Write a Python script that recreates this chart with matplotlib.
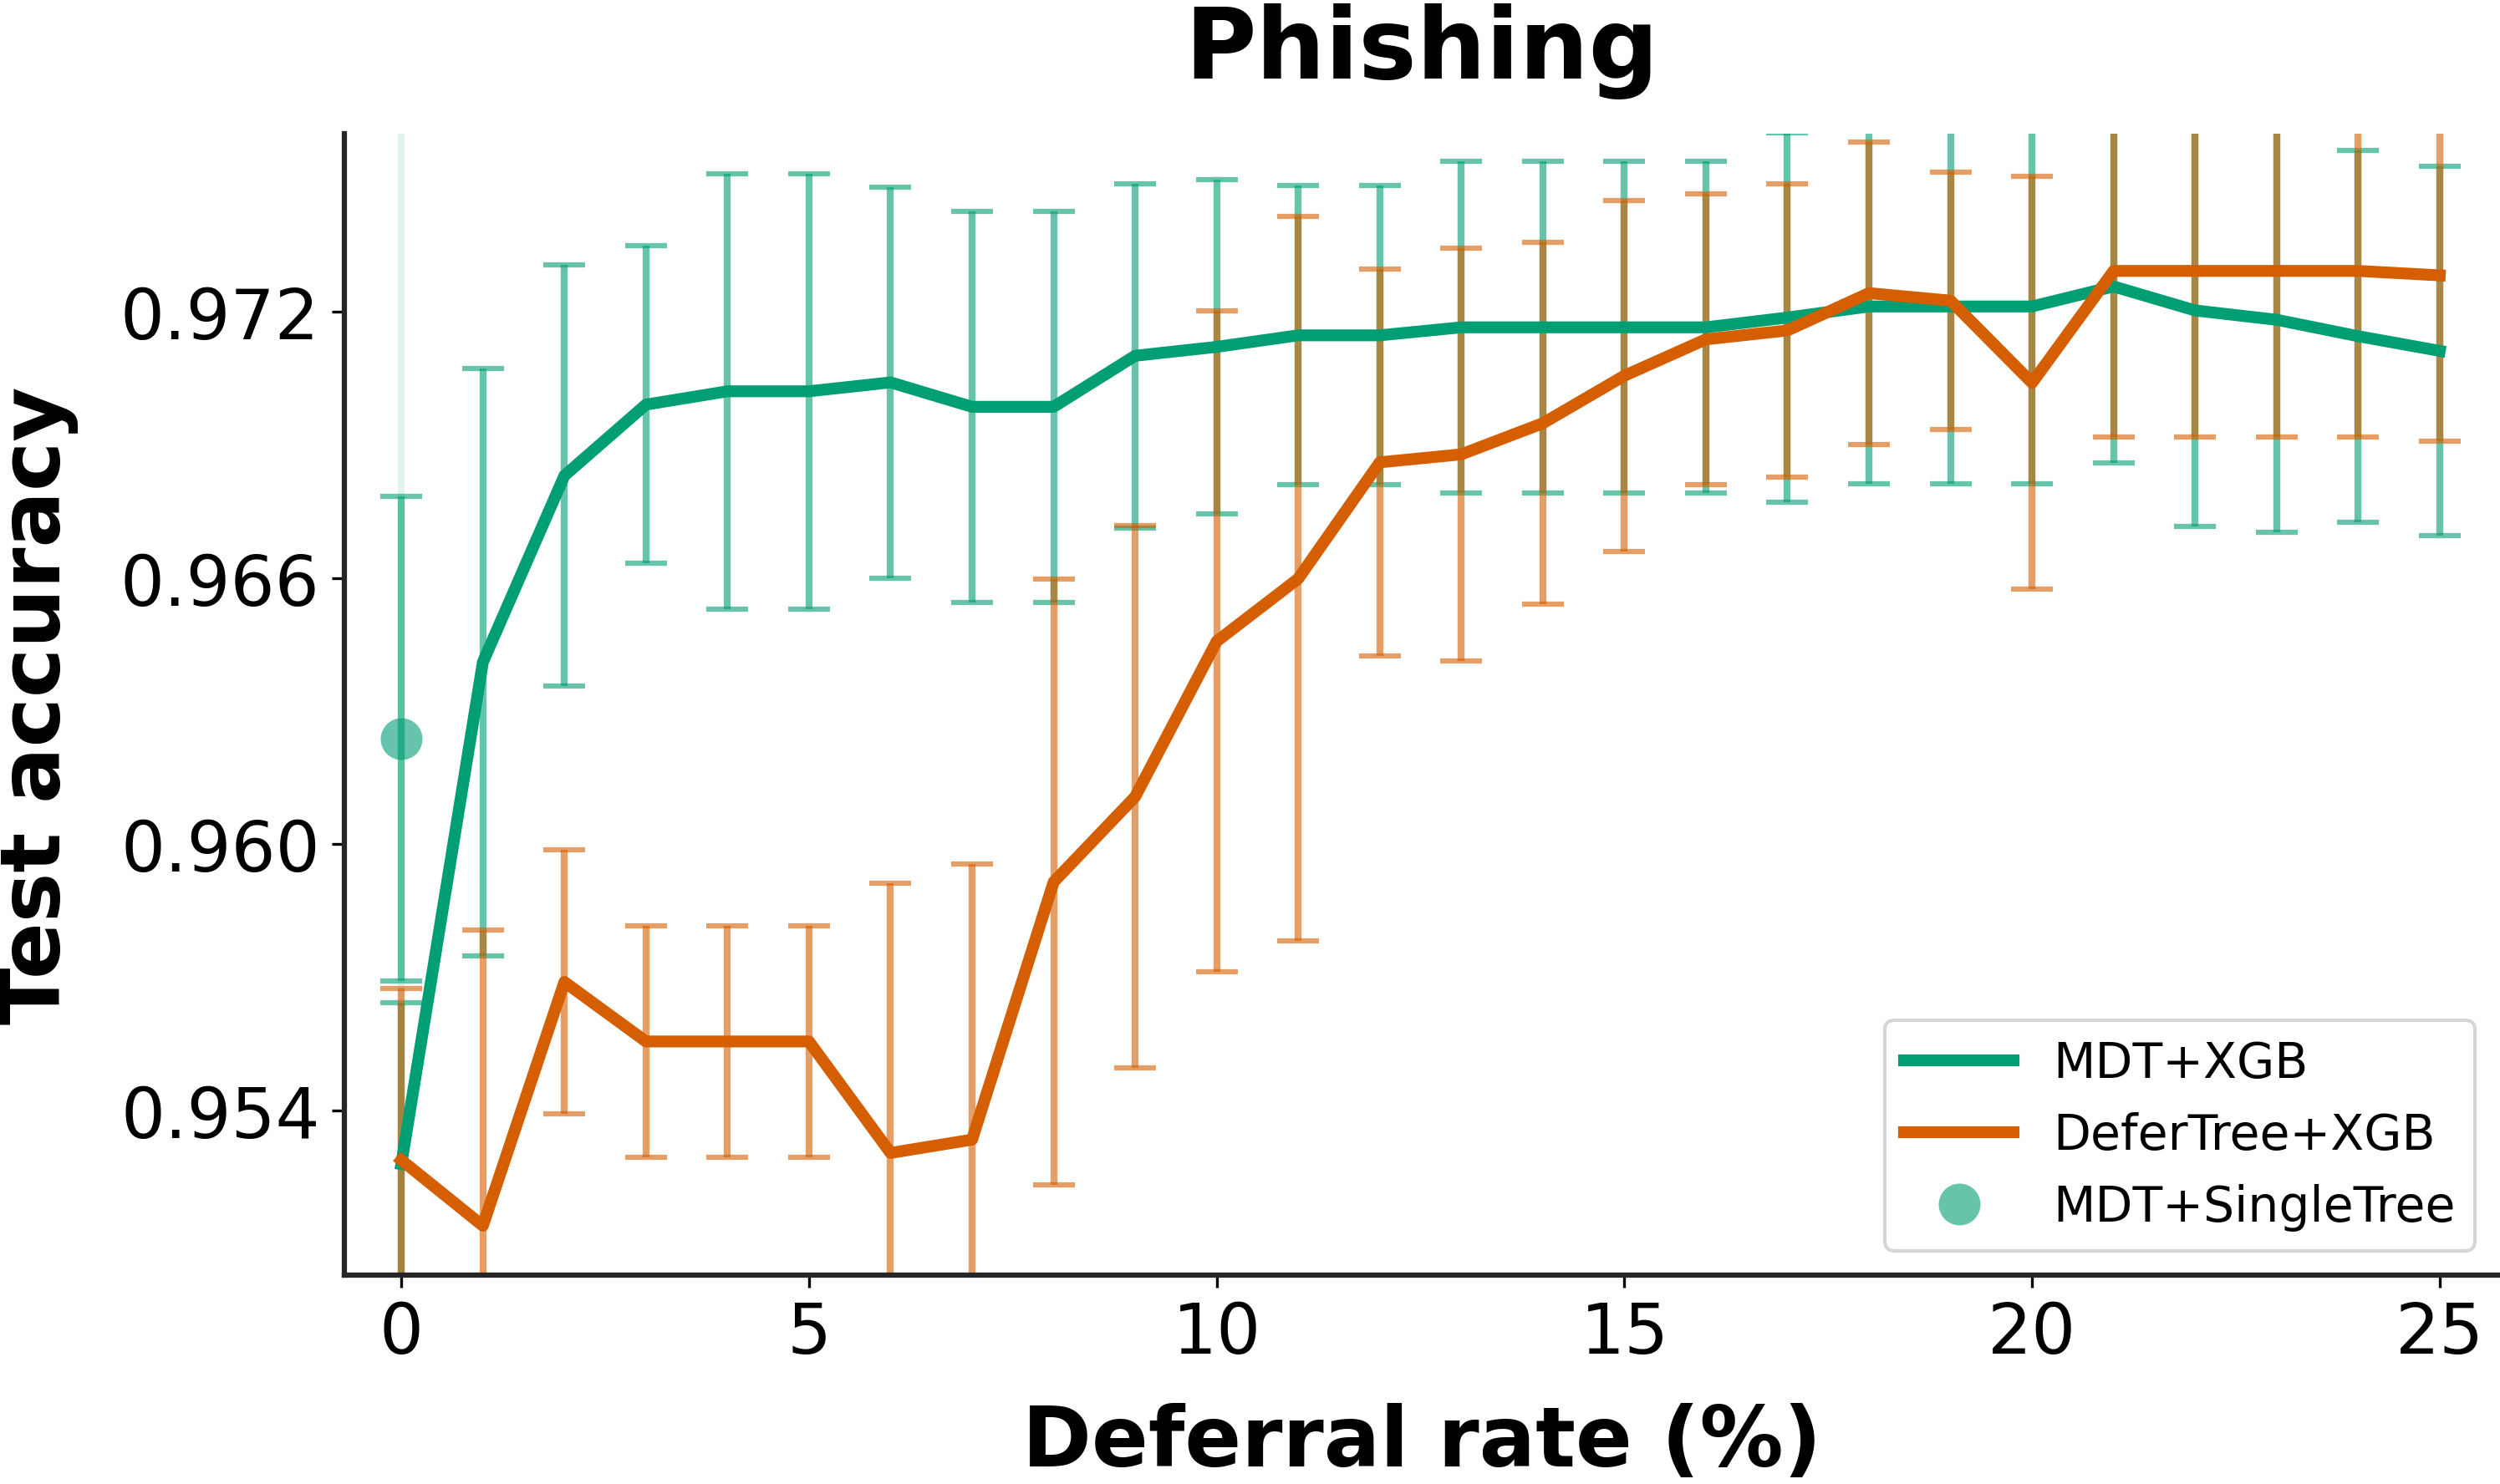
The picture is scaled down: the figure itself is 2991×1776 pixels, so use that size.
import numpy as np
import matplotlib
matplotlib.use("Agg")
import matplotlib.pyplot as plt

# deferral rate (%)
deferral = np.arange(0, 26)

# MDT+XGB mean / std
mdt_xgb_mean = [0.9528, 0.9641, 0.9683, 0.9699, 0.9702, 0.9702, 0.9704, 0.96985,
                0.96985, 0.9710, 0.9712, 0.97146, 0.97146, 0.97164, 0.97164, 0.97164,
                0.97164, 0.97186, 0.97211, 0.97211, 0.97211, 0.97256, 0.97202, 0.97181,
                0.97144, 0.97111]
mdt_xgb_std = [0.00364, 0.00662, 0.00474, 0.00357, 0.0049, 0.0049, 0.0044, 0.0044,
               0.0044, 0.00388, 0.00376, 0.00337, 0.00337, 0.00373, 0.00373, 0.00373,
               0.00373, 0.00415, 0.0040, 0.0040, 0.0040, 0.00398, 0.00486, 0.00478,
               0.00418, 0.00416]

# DeferTree+XGB mean / std
defer_mean = [0.95289, 0.95141, 0.9569, 0.95556, 0.95556, 0.95556, 0.95305, 0.95335,
              0.95915, 0.96107, 0.96457, 0.96598, 0.9686, 0.96878, 0.96948, 0.97055,
              0.97137, 0.97157, 0.97241, 0.97224, 0.97039, 0.97291, 0.97291, 0.97291,
              0.97291, 0.97281]
defer_std = [0.00387, 0.00666, 0.00297, 0.0026, 0.0026, 0.0026, 0.00607, 0.0062,
             0.00682, 0.0061, 0.00744, 0.00815, 0.00436, 0.00465, 0.00407, 0.00395,
             0.00328, 0.0033, 0.0034, 0.0029, 0.00465, 0.00374, 0.00374, 0.00374,
             0.00374, 0.00373]

# MDT+SingleTree (only at 0 %)
single_x = [0]
single_mean = [0.96238]
single_std = [0.00545]

GREEN = "#009E73"
ORANGE = "#D55E00"

fig = plt.figure(figsize=(2991 / 300, 1777 / 300), dpi=300)
ax = fig.add_axes([0.1377, 0.1407, 0.8620, 0.7687])

# faint guide at 0
ax.axvline(0, color=GREEN, alpha=0.12, lw=2, zorder=0)

err_kw = dict(fmt="none", elinewidth=2, capsize=6, capthick=1.5, alpha=0.6)
ax.errorbar(deferral, mdt_xgb_mean, yerr=mdt_xgb_std, ecolor=GREEN, **err_kw)
ax.errorbar(deferral, defer_mean, yerr=defer_std, ecolor=ORANGE, **err_kw)
ax.errorbar(single_x, single_mean, yerr=single_std, ecolor=GREEN, **err_kw)

ax.plot(deferral, mdt_xgb_mean, color=GREEN, lw=3.4, label="MDT+XGB")
ax.plot(deferral, defer_mean, color=ORANGE, lw=3.4, label="DeferTree+XGB")
ax.plot(single_x, single_mean, "o", color=GREEN, alpha=0.6, ms=12,
        markeredgewidth=0, label="MDT+SingleTree")

ax.set_xlim(-0.7, 25.73)
ax.set_ylim(0.9503, 0.9760)
ax.set_xticks([0, 5, 10, 15, 20, 25])
ax.set_yticks([0.954, 0.960, 0.966, 0.972])
ax.set_yticklabels(["0.954", "0.960", "0.966", "0.972"])
ax.tick_params(labelsize=20, length=3.5, width=0.8, color="k")

for side in ["top", "right"]:
    ax.spines[side].set_visible(False)
for side in ["left", "bottom"]:
    ax.spines[side].set_linewidth(1.5)
    ax.spines[side].set_color("#262626")

ax.set_title("Phishing", fontsize=28, fontweight="bold", pad=16)
ax.set_xlabel("Deferral rate (%)", fontsize=24, fontweight="bold", labelpad=10)
ax.set_ylabel("Test accuracy", fontsize=24, fontweight="bold", labelpad=12)

ax.legend(loc="lower right", fontsize=14, handlelength=2.25)

fig.savefig("out.png", dpi=300)
